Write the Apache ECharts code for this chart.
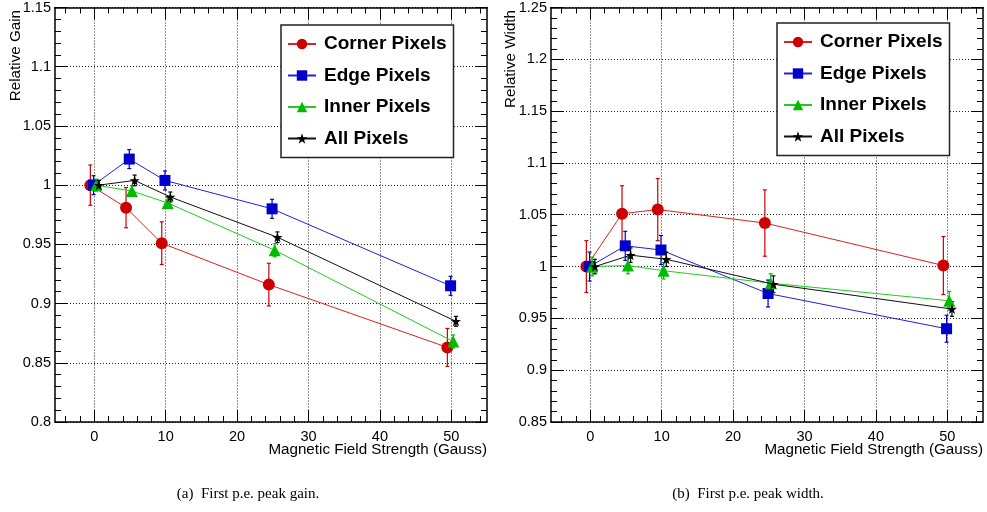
<!DOCTYPE html>
<html><head><meta charset="utf-8">
<script src="https://cdn.jsdelivr.net/npm/echarts@6/dist/echarts.min.js"></script>
<style>html,body{margin:0;padding:0;background:#fff}#c{width:987px;height:512px}</style>
</head><body><div id="c"></div><script>
// ---- data ----
const seriesNames = ['Corner Pixels', 'Edge Pixels', 'Inner Pixels', 'All Pixels'];
const cornerX = [-0.55, 4.45, 9.45, 24.45, 49.45];
const edgeX = [-0.1, 4.9, 9.9, 24.9, 49.9];
const innerX = [0.27, 5.27, 10.27, 25.27, 50.27];
const allX = [0.65, 5.65, 10.65, 25.65, 50.65];

const gainCorner = [1.000, 0.981, 0.951, 0.916, 0.863];
const gainCornerErr = [0.017, 0.017, 0.018, 0.018, 0.016];
const gainEdge = [1.000, 1.022, 1.004, 0.980, 0.915];
const gainEdgeErr = [0.008, 0.008, 0.008, 0.008, 0.008];
const gainInner = [1.000, 0.995, 0.985, 0.945, 0.868];
const gainInnerErr = [0.005, 0.0045, 0.0045, 0.0055, 0.0055];
const gainAll = [1.000, 1.004, 0.990, 0.956, 0.885];
const gainAllErr = [0.004, 0.0045, 0.0042, 0.0045, 0.0042];

const widthCorner = [1.000, 1.051, 1.055, 1.042, 1.001];
const widthCornerErr = [0.025, 0.027, 0.030, 0.032, 0.028];
const widthEdge = [1.000, 1.020, 1.016, 0.974, 0.940];
const widthEdgeErr = [0.014, 0.014, 0.014, 0.013, 0.013];
const widthInner = [1.000, 1.001, 0.996, 0.984, 0.967];
const widthInnerErr = [0.009, 0.008, 0.008, 0.009, 0.009];
const widthAll = [1.000, 1.011, 1.007, 0.983, 0.959];
const widthAllErr = [0.007, 0.007, 0.007, 0.008, 0.007];

const xMajorTicks = [0, 10, 20, 30, 40, 50];
const xMinorTicks = [-4, -2, 2, 4, 6, 8, 12, 14, 16, 18, 22, 24, 26, 28, 32, 34, 36, 38, 42, 44, 46, 48, 52, 54];

const xTitle = 'Magnetic Field Strength (Gauss)';
const yTitleLeft = 'Relative Gain';
const yTitleRight = 'Relative Width';
const captionLeft = '(a)  First p.e. peak gain.';
const captionRight = '(b)  First p.e. peak width.';

// ---- styles ----
const markerColors = ['#cc0000', '#0000cc', '#00bb00', '#000000'];
const lineColors = ['#dd2020', '#2020dd', '#20cc20', '#111111'];
const symbols = ['circle', 'rect', 'triangle',
  'path://M0,-10 L2.35,-3.24 9.51,-3.09 3.8,1.24 5.88,8.09 0,4 -5.88,8.09 -3.8,1.24 -9.51,-3.09 -2.35,-3.24Z'];
const symbolSizes = [12, 11, 12, 10];
const FONT = 'Liberation Sans, Helvetica, Arial, sans-serif';
const LABEL_SIZE = 14.5;
const TITLE_SIZE = 15.2;

const grids = [
  { left: 55, top: 7, width: 432, height: 415 },
  { left: 551, top: 7, width: 432, height: 415 }
];
const yRanges = [[0.8, 1.15], [0.85, 1.25]];

const frameLine = { color: '#000', width: 1.5 };
const xAxes = [], yAxes = [];
grids.forEach((g, gi) => {
  const base = { gridIndex: gi, type: 'value', min: -5.5, max: 55, axisPointer: { show: false } };
  xAxes.push(Object.assign({}, base, {
    position: 'bottom',
    axisLine: { show: true, onZero: false, lineStyle: frameLine },
    axisTick: { show: true, inside: true, length: 12, customValues: xMajorTicks, lineStyle: { color: '#000' } },
    axisLabel: { show: true, customValues: xMajorTicks, margin: 7, color: '#000', fontSize: LABEL_SIZE, fontFamily: FONT },
    splitLine: { show: true, lineStyle: { color: '#222', type: [1, 2], width: 1 } }
  }));
  xAxes.push(Object.assign({}, base, {
    position: 'bottom',
    axisLine: { show: false, onZero: false },
    axisTick: { show: true, inside: true, length: 6, customValues: xMinorTicks, lineStyle: { color: '#000' } },
    axisLabel: { show: false }, splitLine: { show: false }
  }));
  xAxes.push(Object.assign({}, base, {
    position: 'top',
    axisLine: { show: true, onZero: false, lineStyle: frameLine },
    axisTick: { show: true, inside: true, length: 12, customValues: xMajorTicks, lineStyle: { color: '#000' } },
    axisLabel: { show: false }, splitLine: { show: false }
  }));
  xAxes.push(Object.assign({}, base, {
    position: 'top',
    axisLine: { show: false, onZero: false },
    axisTick: { show: true, inside: true, length: 6, customValues: xMinorTicks, lineStyle: { color: '#000' } },
    axisLabel: { show: false }, splitLine: { show: false }
  }));
  const ybase = { gridIndex: gi, type: 'value', min: yRanges[gi][0], max: yRanges[gi][1], interval: 0.05, axisPointer: { show: false } };
  yAxes.push(Object.assign({}, ybase, {
    position: 'left',
    axisLine: { show: true, onZero: false, lineStyle: frameLine },
    axisTick: { show: true, inside: true, length: 12, lineStyle: { color: '#000' } },
    minorTick: { show: true, splitNumber: 5, length: 6, lineStyle: { color: '#000' } },
    axisLabel: { show: true, margin: 4, color: '#000', fontSize: LABEL_SIZE, fontFamily: FONT,
      formatter: v => String(Math.round(v * 100) / 100) },
    splitLine: { show: true, lineStyle: { color: '#222', type: [1, 2], width: 1 } }
  }));
  yAxes.push(Object.assign({}, ybase, {
    position: 'right',
    axisLine: { show: true, onZero: false, lineStyle: frameLine },
    axisTick: { show: true, inside: true, length: 12, lineStyle: { color: '#000' } },
    minorTick: { show: true, splitNumber: 5, length: 6, lineStyle: { color: '#000' } },
    axisLabel: { show: false }, splitLine: { show: false }
  }));
});

const xs = [cornerX, edgeX, innerX, allX];
const plotData = [
  [[gainCorner, gainCornerErr], [gainEdge, gainEdgeErr], [gainInner, gainInnerErr], [gainAll, gainAllErr]],
  [[widthCorner, widthCornerErr], [widthEdge, widthEdgeErr], [widthInner, widthInnerErr], [widthAll, widthAllErr]]
];

function makeErrRender(color) {
  return function (params, api) {
    const x = api.value(0), y = api.value(1), e = api.value(2);
    const t = api.coord([x, y + e]);
    const b = api.coord([x, y - e]);
    const st = { stroke: color, lineWidth: 1.2 };
    const cap = 2;
    return { type: 'group', children: [
      { type: 'line', shape: { x1: t[0], y1: t[1], x2: b[0], y2: b[1] }, style: st },
      { type: 'line', shape: { x1: t[0] - cap, y1: t[1], x2: t[0] + cap, y2: t[1] }, style: st },
      { type: 'line', shape: { x1: b[0] - cap, y1: b[1], x2: b[0] + cap, y2: b[1] }, style: st }
    ] };
  };
}

const series = [];
plotData.forEach((sets, gi) => {
  sets.forEach((pair, si) => {
    const vals = pair[0], errs = pair[1];
    series.push({
      name: seriesNames[si] + ' err' + gi, type: 'custom', coordinateSystem: 'cartesian2d',
      xAxisIndex: gi * 4, yAxisIndex: gi * 2, z: 2 + si,
      renderItem: makeErrRender(markerColors[si]),
      encode: { x: 0, y: 1 },
      data: vals.map((v, i) => [xs[si][i], v, errs[i]]), silent: true
    });
    series.push({
      name: seriesNames[si], type: 'line', xAxisIndex: gi * 4, yAxisIndex: gi * 2, z: 3 + si,
      symbol: symbols[si], symbolSize: symbolSizes[si], showSymbol: true,
      itemStyle: { color: markerColors[si] },
      lineStyle: { color: lineColors[si], width: 1 },
      data: vals.map((v, i) => [xs[si][i], v])
    });
  });
});

function legendAt(left, top) {
  return {
    data: seriesNames, orient: 'vertical', left: left, top: top,
    backgroundColor: '#fff', borderColor: '#222', borderWidth: 1.5,
    padding: [9, 7, 9, 6], itemGap: 11.5, itemWidth: 28, itemHeight: 13,
    textStyle: { fontFamily: FONT, fontWeight: 'bold', fontSize: 19, color: '#000', lineHeight: 20, padding: [0, 0, 0, 3] },
    selectedMode: false
  };
}

const chart = echarts.init(document.getElementById('c'), null, { renderer: 'canvas' });
chart.setOption({
  animation: false,
  backgroundColor: '#fff',
  grid: grids,
  xAxis: xAxes,
  yAxis: yAxes,
  legend: [legendAt(281, 25), legendAt(777, 23)],
  series: series,
  graphic: [
    { type: 'text', x: 16, y: 10, rotation: Math.PI / 2, style: { text: yTitleLeft, font: TITLE_SIZE + 'px ' + FONT, fill: '#000', align: 'right', verticalAlign: 'middle' } },
    { type: 'text', x: 511, y: 10, rotation: Math.PI / 2, style: { text: yTitleRight, font: TITLE_SIZE + 'px ' + FONT, fill: '#000', align: 'right', verticalAlign: 'middle' } },
    { type: 'text', x: 487, y: 450, style: { text: xTitle, font: TITLE_SIZE + 'px ' + FONT, fill: '#000', align: 'right', verticalAlign: 'middle' } },
    { type: 'text', x: 983, y: 450, style: { text: xTitle, font: TITLE_SIZE + 'px ' + FONT, fill: '#000', align: 'right', verticalAlign: 'middle' } },
    { type: 'text', x: 248, y: 494, style: { text: captionLeft, font: '15px Liberation Serif, Times New Roman, serif', fill: '#000', align: 'center', verticalAlign: 'middle' } },
    { type: 'text', x: 748, y: 494, style: { text: captionRight, font: '15px Liberation Serif, Times New Roman, serif', fill: '#000', align: 'center', verticalAlign: 'middle' } }
  ]
});
</script></body></html>
